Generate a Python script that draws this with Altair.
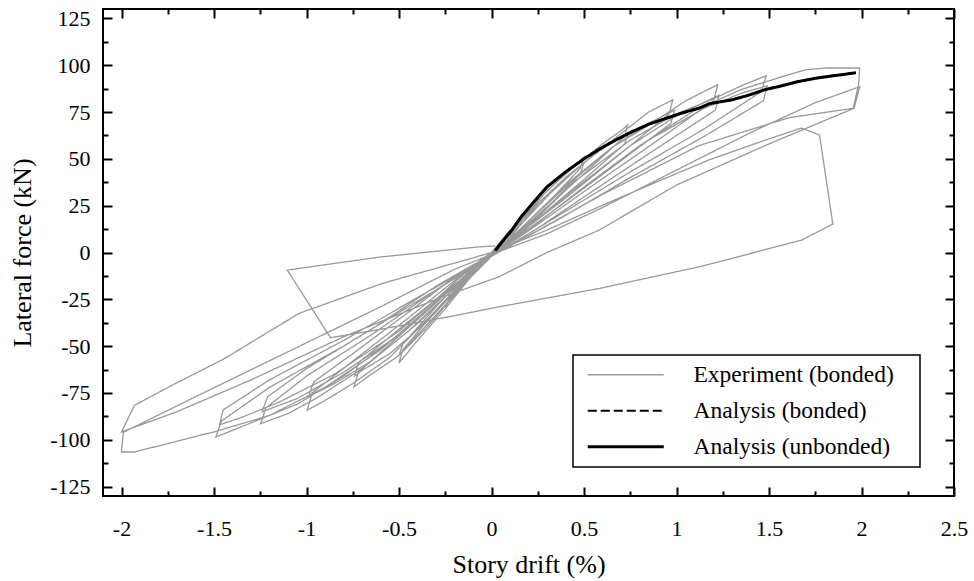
import altair as alt
import pandas as pd

FONT = "Liberation Serif"

series_names = ["Experiment (bonded)", "Analysis (bonded)", "Analysis (unbonded)"]

# Experimental hysteresis: (story drift %, lateral force kN), in loading order
cycle_010 = [(0, 0), (0.05, 6), (0.10, 12), (0.08, 8), (0.02, 1), (-0.05, -6), (-0.10, -12), (-0.08, -8), (-0.01, -1)]
cycle_025 = [(0.10, 11), (0.25, 28), (0.23, 23), (0.10, 8), (0.00, -1), (-0.12, -14), (-0.25, -30), (-0.23, -25),
             (-0.10, -9), (0.00, 0)]
cycle_050a = [(0.10, 11), (0.25, 28), (0.40, 42), (0.50, 51), (0.48, 45), (0.30, 26), (0.10, 7), (0.00, -1),
              (-0.12, -14), (-0.25, -30), (-0.40, -47), (-0.50, -59), (-0.48, -52), (-0.30, -31), (-0.10, -9),
              (0.00, 0)]
cycle_050b = [(0.10, 10), (0.25, 26), (0.40, 40), (0.50, 48), (0.48, 42), (0.30, 24), (0.10, 6), (0.00, -1),
              (-0.12, -13), (-0.25, -28), (-0.40, -44), (-0.50, -55), (-0.48, -49), (-0.30, -29), (-0.10, -8),
              (0.00, 0)]
cycle_075a = [(0.12, 12), (0.30, 33), (0.45, 46), (0.60, 58), (0.70, 65), (0.736, 68), (0.72, 62), (0.50, 42),
              (0.25, 20), (0.05, 2), (0.00, -2), (-0.15, -17), (-0.35, -40), (-0.50, -55), (-0.65, -65),
              (-0.743, -71.7), (-0.72, -64), (-0.55, -49), (-0.30, -27), (-0.10, -8), (0.00, 0)]
cycle_075b = [(0.12, 11), (0.30, 30), (0.50, 48), (0.65, 59), (0.74, 64), (0.72, 58), (0.50, 39), (0.25, 18),
              (0.05, 1), (0.00, -2), (-0.15, -16), (-0.35, -37), (-0.55, -54), (-0.70, -63), (-0.74, -66),
              (-0.72, -59), (-0.55, -45), (-0.30, -25), (-0.10, -7), (0.00, 0)]
cycle_100a = [(0.15, 14), (0.35, 35), (0.55, 52), (0.72, 65), (0.85, 75), (0.98, 81.5), (0.96, 74), (0.70, 53),
              (0.40, 29), (0.15, 10), (0.00, -2), (-0.15, -15), (-0.35, -36), (-0.55, -56), (-0.75, -70),
              (-0.90, -79), (-0.996, -84.2), (-0.97, -75), (-0.75, -58), (-0.45, -35), (-0.20, -15), (0.00, -1)]
cycle_100b = [(0.15, 12), (0.40, 35), (0.65, 56), (0.85, 69), (0.99, 76), (0.97, 69), (0.70, 49), (0.40, 27),
              (0.15, 9), (0.00, -2), (-0.15, -14), (-0.40, -38), (-0.65, -58), (-0.85, -70), (-0.99, -77),
              (-0.96, -69), (-0.75, -54), (-0.45, -32), (-0.20, -13), (0.00, -1)]
cycle_125a = [(0.15, 12), (0.40, 36), (0.65, 56), (0.85, 68), (1.05, 81), (1.15, 86), (1.223, 89.6), (1.20, 81),
              (0.90, 60), (0.55, 36), (0.25, 15), (0.00, -2), (-0.20, -19), (-0.45, -42), (-0.70, -62),
              (-0.95, -78), (-1.10, -86), (-1.248, -91.4), (-1.22, -83), (-1.00, -66), (-0.65, -44),
              (-0.30, -20), (0.00, -1)]
cycle_125b = [(0.15, 10), (0.45, 34), (0.75, 57), (1.00, 73), (1.23, 84), (1.21, 76), (0.90, 56), (0.55, 33),
              (0.25, 13), (0.00, -2), (-0.20, -18), (-0.50, -44), (-0.80, -64), (-1.05, -78), (-1.24, -85),
              (-1.21, -77), (-1.00, -62), (-0.65, -41), (-0.30, -18), (0.00, -1)]
cycle_150a = [(0.20, 14), (0.45, 38), (0.75, 60), (1.00, 74), (1.20, 82), (1.35, 89), (1.485, 94.4), (1.46, 86),
              (1.15, 66), (0.75, 43), (0.35, 19), (0.00, -2), (-0.20, -18), (-0.50, -44), (-0.80, -66),
              (-1.05, -81), (-1.30, -91), (-1.49, -98.5), (-1.46, -90), (-1.20, -72), (-0.80, -50), (-0.40, -26),
              (0.00, -2)]
cycle_150b = [(0.20, 12), (0.50, 35), (0.85, 60), (1.15, 77), (1.35, 85), (1.49, 89), (1.47, 81), (1.15, 62),
              (0.75, 40), (0.35, 17), (0.00, -2), (-0.20, -17), (-0.50, -42), (-0.85, -65), (-1.15, -80),
              (-1.35, -88), (-1.47, -92), (-1.45, -84), (-1.20, -68), (-0.80, -47), (-0.40, -24), (0.00, -2)]
cycle_200a = [(0.20, 12), (0.50, 35), (0.80, 57), (1.10, 76), (1.35, 87), (1.575, 94), (1.70, 97.6), (1.81, 98.5),
              (1.99, 98.5), (1.985, 90), (1.955, 77), (1.61, 72), (1.12, 57), (0.60, 31), (0.20, 9), (0.00, -2),
              (-0.25, -22), (-0.60, -52), (-0.90, -72), (-1.20, -87), (-1.49, -95.5), (-1.93, -106.5),
              (-2.00, -106.5), (-1.99, -96), (-1.60, -77), (-1.10, -53), (-0.60, -29), (-0.20, -9), (0.00, -1)]
cycle_200b = [(0.30, 10), (0.60, 24), (1.00, 44), (1.40, 64), (1.75, 80), (1.99, 88.5), (1.96, 77), (1.50, 58),
              (1.00, 36), (0.583, 12), (0.30, 0), (0.04, -13), (-0.30, -25), (-0.80, -45), (-1.30, -68),
              (-1.70, -85), (-2.00, -95.8), (-1.93, -81.6), (-1.71, -70), (-1.45, -57), (-1.04, -32.5),
              (-0.59, -16.5), (-0.14, -4), (0.00, 0)]
cycle_final = [(0.30, 12), (0.583, 24.5), (0.90, 38), (1.178, 49.5), (1.45, 59), (1.674, 66.4), (1.773, 62.8),
               (1.845, 15.2), (1.674, 6.5), (1.124, -7.6), (0.583, -19.2), (0.04, -29), (-0.23, -34.3),
               (-0.60, -41), (-0.87, -45.5), (-1.104, -9.4), (-0.61, -2.5), (-0.07, 3), (0.02, 3.5)]

experiment_cycles = [cycle_010, cycle_025, cycle_050a, cycle_050b, cycle_075a, cycle_075b, cycle_100a,
                     cycle_100b, cycle_125a, cycle_125b, cycle_150a, cycle_150b, cycle_200a, cycle_200b,
                     cycle_final]

# Analysis (backbone) curve
analysis_drift = [0.02, 0.06, 0.11, 0.16, 0.22, 0.30, 0.40, 0.50, 0.58, 0.67, 0.76, 0.85, 0.94, 1.03, 1.12,
                  1.18, 1.30, 1.39, 1.48, 1.57, 1.66, 1.75, 1.85, 1.92, 1.97]
analysis_force = [1, 6, 12, 19, 26, 35, 43, 50, 55, 60, 64.5, 68.5, 71.5, 74.5, 77, 79.5, 81.5, 84, 87, 89,
                  91.3, 93, 94.4, 95.3, 96]

x_major = [-2, -1.5, -1, -0.5, 0, 0.5, 1, 1.5, 2, 2.5]
x_minor = [-1.75, -1.25, -0.75, -0.25, 0.25, 0.75, 1.25, 1.75, 2.25]
y_major = [-125, -100, -75, -50, -25, 0, 25, 50, 75, 100, 125]
y_minor = [-112.5, -87.5, -62.5, -37.5, -12.5, 12.5, 37.5, 62.5, 87.5, 112.5]

# ---- tables ----
exp_rows = []
k = 0
for cyc in experiment_cycles:
    for d, f in cyc:
        exp_rows.append({"drift": d, "force": f, "series": series_names[0], "i": k})
        k += 1
exp_df = pd.DataFrame(exp_rows)

ana_b_df = pd.DataFrame({"drift": analysis_drift, "force": analysis_force,
                         "series": series_names[1], "i": list(range(len(analysis_drift)))})
ana_u_df = pd.DataFrame({"drift": analysis_drift, "force": analysis_force,
                         "series": series_names[2], "i": list(range(len(analysis_drift)))})

xs = alt.Scale(domain=[-2.1, 2.5], nice=False, zero=False)
ys = alt.Scale(domain=[-130, 130], nice=False, zero=False)

legend = alt.Legend(
    title=None, orient="none", legendX=470, legendY=346, direction="vertical",
    symbolType="M-4,0L4,0", symbolSize=361, symbolOffset=33, labelOffset=56,
    padding=8, rowPadding=11, labelFont=FONT, labelFontSize=23.5, labelColor="black",
    labelLimit=400, strokeColor="black", fillColor="white",
    labelExpr="datum.label + '\u2800'",
)

color = alt.Color("series:N", scale=alt.Scale(domain=series_names, range=["#999999", "#000000", "#000000"]),
                  legend=legend)
dash = alt.StrokeDash("series:N", scale=alt.Scale(domain=series_names, range=[[1, 0], [9, 4], [1, 0]]),
                      legend=legend)
swidth = alt.StrokeWidth("series:N", scale=alt.Scale(domain=series_names, range=[1.3, 3, 3.2]),
                         legend=legend)

lbl = "'' + datum.value"

x_main = alt.Axis(values=x_major, orient="bottom", offset=-9, tickSize=9, labelPadding=22,
                  labelExpr=lbl, labelFont=FONT, labelFontSize=22, labelFlush=False, labelOverlap=False,
                  title="Story drift (%)", titleFont=FONT, titleFontSize=26, titleFontWeight="normal",
                  titleX=425.5, titleY=85, titleBaseline="alphabetic", titleAlign="center")
y_main = alt.Axis(values=y_major, orient="left", offset=-9, tickSize=9, labelPadding=13,
                  labelExpr=lbl, labelFont=FONT, labelFontSize=22, labelFlush=False, labelOverlap=False,
                  title="Lateral force (kN)", titleFont=FONT, titleFontSize=26, titleFontWeight="normal",
                  titleX=-82, titleY=243.5, titleBaseline="alphabetic", titleAlign="center")


def tick_axis(vals, orient, size):
    return alt.Axis(values=vals, orient=orient, offset=-size, tickSize=size, labels=False, title=None)


exp_layer = alt.Chart(exp_df).mark_line().encode(
    x=alt.X("drift:Q", scale=xs, axis=x_main),
    y=alt.Y("force:Q", scale=ys, axis=y_main),
    color=color, strokeDash=dash, strokeWidth=swidth,
    order=alt.Order("i:Q"),
)
ana_b_layer = alt.Chart(ana_b_df).mark_line().encode(
    x=alt.X("drift:Q", scale=xs, axis=None),
    y=alt.Y("force:Q", scale=ys, axis=None),
    color=color, strokeDash=dash, strokeWidth=swidth,
    order=alt.Order("i:Q"),
)
ana_u_layer = alt.Chart(ana_u_df).mark_line().encode(
    x=alt.X("drift:Q", scale=xs, axis=None),
    y=alt.Y("force:Q", scale=ys, axis=None),
    color=color, strokeDash=dash, strokeWidth=swidth,
    order=alt.Order("i:Q"),
)


def tick_layer(xv, xo, yv, yo, size):
    return alt.Chart(exp_df).mark_point(opacity=0).encode(
        x=alt.X("drift:Q", scale=xs, axis=tick_axis(xv, xo, size)),
        y=alt.Y("force:Q", scale=ys, axis=tick_axis(yv, yo, size)),
    )


chart = alt.layer(
    exp_layer, ana_b_layer, ana_u_layer,
    tick_layer(x_minor, "bottom", y_minor, "left", 5),
    tick_layer(x_major, "top", y_major, "right", 9),
    tick_layer(x_minor, "top", y_minor, "right", 5),
).resolve_axis(x="independent", y="independent").properties(
    width=851, height=487,
    autosize=alt.AutoSizeParams(type="none"),
    padding={"left": 103, "top": 9, "right": 20, "bottom": 85},
    background="white",
).configure_view(stroke="black", strokeWidth=2).configure_axis(
    grid=False, domain=False, tickColor="black", tickWidth=2, labelColor="black", titleColor="black"
).configure_legend(strokeWidth=1.5)

chart.save("out.html", embed_options={"renderer": "svg", "actions": False})
